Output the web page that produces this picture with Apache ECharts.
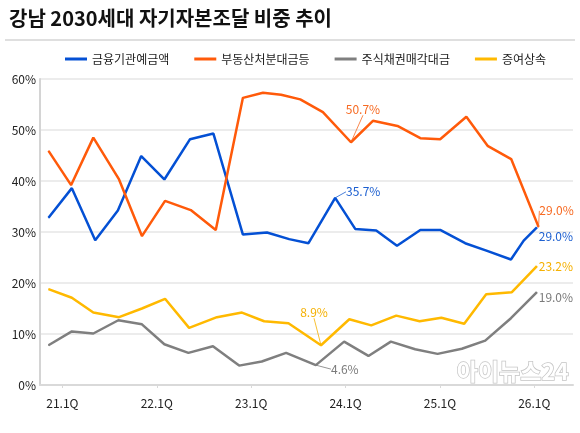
<!DOCTYPE html>
<html>
<head>
<meta charset="utf-8">
<script src="https://cdn.jsdelivr.net/npm/echarts@6/dist/echarts.min.js"></script>
<style>
  html, body { margin: 0; padding: 0; background: #fff; }
  #chart { width: 580px; height: 433px; }
</style>
</head>
<body>
<div id="chart"></div>
<script>
// 분기 위치 (21.1Q = 0)
var tickPos = [0, 4, 8, 12, 16, 20];
var tickLabels = ['21.1Q', '22.1Q', '23.1Q', '24.1Q', '25.1Q', '26.1Q'];
var seriesNames = ['금융기관예금액', '부동산처분대금등', '주식채권매각대금', '증여상속'];

// 금융기관예금액
var blueX = [-0.59, 0.40, 1.39, 2.35, 3.34, 4.32, 5.41, 6.40, 7.65, 8.67, 9.61, 10.43, 11.56, 12.41, 13.30, 14.18, 15.17, 16.01, 17.07, 18.0, 19.01, 19.55, 20.11];
var blueY = [32.8, 38.6, 28.4, 34.2, 44.9, 40.3, 48.2, 49.3, 29.5, 29.9, 28.6, 27.8, 36.7, 30.6, 30.3, 27.3, 30.4, 30.4, 27.8, 26.3, 24.6, 28.3, 30.9];
// 부동산처분대금등
var orangeX = [-0.59, 0.37, 1.31, 2.40, 3.37, 4.35, 5.44, 6.50, 7.65, 8.50, 9.27, 10.08, 11.04, 12.23, 13.16, 14.20, 15.17, 16.01, 17.12, 18.02, 19.02, 20.18];
var orangeY = [45.9, 39.2, 48.5, 40.3, 29.2, 36.1, 34.3, 30.4, 56.3, 57.3, 56.9, 56.0, 53.5, 47.6, 51.8, 50.8, 48.4, 48.2, 52.6, 46.9, 44.3, 31.0];
// 주식채권매각대금
var grayX = [-0.59, 0.40, 1.31, 2.37, 3.37, 4.32, 5.34, 6.38, 7.49, 8.45, 9.48, 10.74, 11.94, 12.97, 13.92, 14.95, 15.90, 16.93, 17.92, 19.01, 20.11];
var grayY = [7.8, 10.5, 10.1, 12.7, 11.9, 8.0, 6.3, 7.6, 3.8, 4.6, 6.3, 3.9, 8.5, 5.7, 8.5, 7.0, 6.1, 7.1, 8.7, 13.1, 18.2];
// 증여상속
var yellowX = [-0.59, 0.40, 1.31, 2.40, 3.37, 4.35, 5.37, 6.55, 7.61, 8.55, 9.58, 10.96, 12.16, 13.09, 14.15, 15.14, 16.06, 17.03, 17.96, 19.05, 20.11];
var yellowY = [18.8, 17.1, 14.2, 13.3, 15.0, 16.9, 11.2, 13.3, 14.2, 12.5, 12.1, 7.8, 12.9, 11.7, 13.6, 12.5, 13.2, 12.0, 17.8, 18.2, 23.3];

// 라벨 문구 (series index, data index, text)
var noteSeries = [0, 0, 1, 1, 2, 2, 3, 3];
var noteIndex  = [12, 22, 13, 21, 11, 20, 11, 20];
var noteText   = ['35.7%', '29.0%', '50.7%', '29.0%', '4.6%', '19.0%', '8.9%', '23.2%'];

// 라벨 위치 조정 (px) / 리더선 여부
var noteDx   = [28, 19, 12, 18, 29, 19, -7, 19];
var noteDy   = [-6, 9, -33, -16, 4, 5, -33, 0];
var noteLine = [true, false, true, true, true, false, true, false];

var colors = ['#0450d4', '#ff5a0a', '#7f7f7f', '#ffb900'];
var labelColors = ['#1c5fd0', '#f76a22', '#7a7a7a', '#f5b000'];
var FONT = '"Noto Sans CJK KR", "Noto Sans", sans-serif';

function zip(xs, ys) {
    var res = [];
    for (var i = 0; i < xs.length; i++) res.push([xs[i], ys[i]]);
    return res;
}

function findNote(s, i) {
    for (var k = 0; k < noteSeries.length; k++) {
        if (noteSeries[k] === s && noteIndex[k] === i) return k;
    }
    return -1;
}

function buildData(s, xs, ys) {
    var pts = zip(xs, ys);
    return pts.map(function (p, i) {
        var k = findNote(s, i);
        if (k < 0) return { value: p };
        return {
            value: p,
            label: {
                show: true,
                position: 'inside',
                formatter: noteText[k],
                color: labelColors[s],
                fontSize: 12,
                fontFamily: FONT
            },
            labelLine: {
                show: noteLine[k],
                length2: 0,
                lineStyle: { color: labelColors[s], width: 0.8 }
            }
        };
    });
}

var allX = [blueX, orangeX, grayX, yellowX];
var allY = [blueY, orangeY, grayY, yellowY];

var series = seriesNames.map(function (name, s) {
    return {
        name: name,
        type: 'line',
        data: buildData(s, allX[s], allY[s]),
        showSymbol: true,
        symbol: 'circle',
        symbolSize: 1,
        lineStyle: { color: colors[s], width: 2.5 },
        itemStyle: { color: colors[s] },
        emphasis: { disabled: true },
        label: { show: false },
        labelLayout: function (p) {
            var k = findNote(p.seriesIndex, p.dataIndex);
            if (k < 0) return {};
            return { dx: noteDx[k], dy: noteDy[k] };
        },
        z: 2 + s
    };
});

var chart = echarts.init(document.getElementById('chart'));
chart.setOption({
    animation: false,
    backgroundColor: '#fff',
    color: colors,
    title: {
        text: '강남 2030세대 자기자본조달 비중 추이',
        left: 4,
        top: 3,
        textStyle: { fontSize: 20, fontWeight: 'bold', color: '#111', fontFamily: FONT }
    },
    graphic: [
        { type: 'line', shape: { x1: 5, y1: 40, x2: 575, y2: 40 }, style: { stroke: '#d4d4d4', lineWidth: 1.5 } },
        {
            type: 'text', left: 456, top: 359, z: 10,
            style: {
                text: '아이뉴스24', font: 'bold 23px ' + FONT, fill: '#ffffff',
                stroke: '#c4c4c4', lineWidth: 1.5,
                shadowColor: 'rgba(0,0,0,0.25)', shadowBlur: 3, shadowOffsetX: 1, shadowOffsetY: 1
            }
        }
    ],
    legend: {
        data: seriesNames,
        left: 60,
        top: 48,
        icon: 'rect',
        itemWidth: 22,
        itemHeight: 3,
        itemGap: 25,
        textStyle: { fontSize: 12, color: '#222', fontFamily: FONT }
    },
    grid: { left: 40, right: 7, top: 79, bottom: 48, containLabel: false },
    xAxis: {
        type: 'value',
        min: -0.95,
        max: 21.64,
        splitLine: { show: false },
        axisLine: { show: true, onZero: false, lineStyle: { color: '#d9d9d9', width: 2 } },
        axisTick: { show: true, customValues: tickPos, length: 3, lineStyle: { color: '#d9d9d9' } },
        axisLabel: {
            customValues: tickPos,
            formatter: function (v) { return tickLabels[tickPos.indexOf(Math.round(v))] || ''; },
            color: '#222', fontSize: 12, fontFamily: FONT, margin: 12
        }
    },
    yAxis: {
        type: 'value',
        min: 0,
        max: 60,
        interval: 10,
        axisLine: { show: true, onZero: false, lineStyle: { color: '#d4d4d4', width: 2 } },
        axisTick: { show: false },
        splitLine: { lineStyle: { color: '#e6e6e6', width: 1.5 } },
        axisLabel: { formatter: '{value}%', color: '#222', fontSize: 12, fontFamily: FONT, margin: 4 }
    },
    series: series
});
</script>
</body>
</html>
